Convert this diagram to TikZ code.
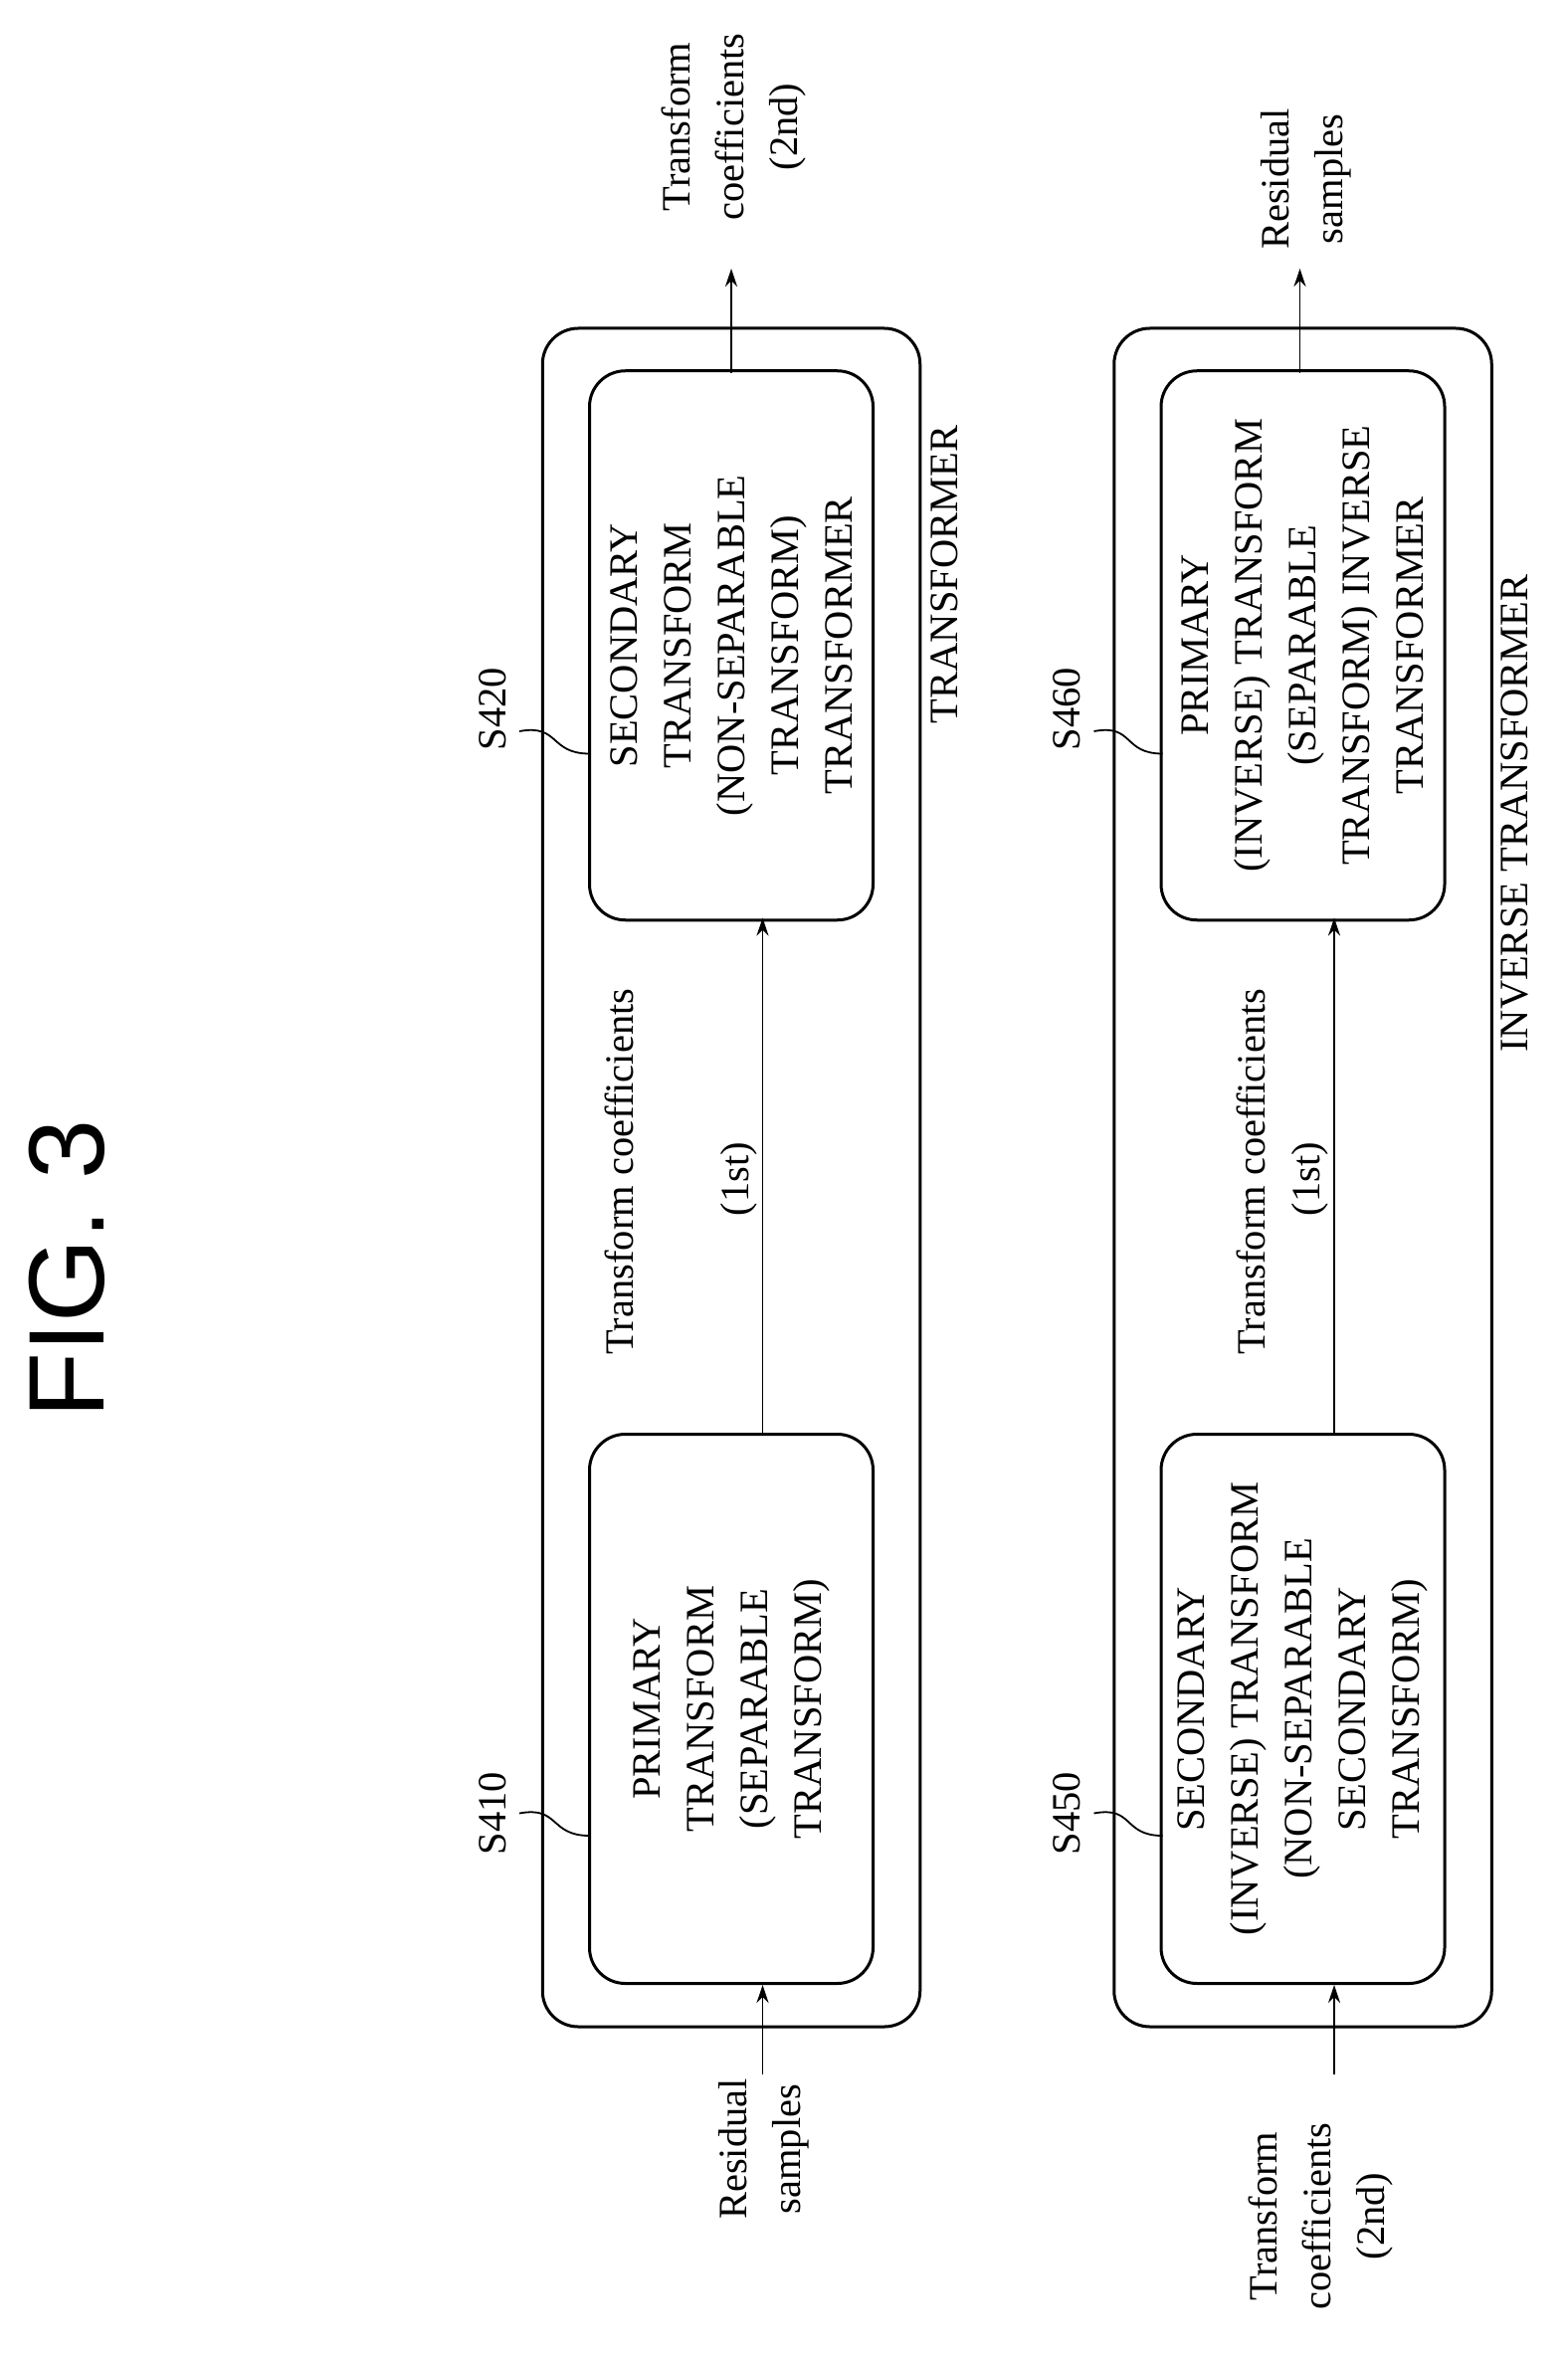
\documentclass[tikz,border=0pt]{standalone}
\usepackage{fontspec}
\setmainfont{Liberation Serif}
\newfontfamily\figfont{Liberation Sans}
\usetikzlibrary{arrows.meta}
\begin{document}
\begin{tikzpicture}[x=0.5pt,y=-0.5pt,
  outerbox/.style={draw,line width=1pt,rounded corners=12pt,minimum width=126.5pt,minimum height=569pt,inner sep=0},
  innerbox/.style={draw,line width=1pt,rounded corners=12pt,minimum width=95pt,minimum height=184pt,inner sep=0},
  txt/.style={rotate=90,align=center,font=\fontsize{13.5}{18}\selectfont,inner sep=0},
  arr/.style={-{Stealth[length=6pt,width=4pt]},line width=0.6pt},
  lead/.style={line width=0.6pt}]
\useasboundingbox (0,0) rectangle (1050,1582);
\node[rotate=90,font=\figfont\fontsize{36}{40}\selectfont] (fig) at (45,850) {FIG. 3};
% top group
\node[outerbox] (T) at (490,789) {};
\node[innerbox] (a) at (490,1145) {};
\node[innerbox] (b) at (490,432.5) {};
\node[txt] (at) at (490,1145) {PRIMARY\\TRANSFORM\\(SEPARABLE\\TRANSFORM)};
\node[txt] (bt) at (490,432.5) {SECONDARY\\TRANSFORM\\(NON-SEPARABLE\\TRANSFORM)\\TRANSFORMER};
\coordinate (ain) at (511,1390);
\coordinate (bout) at (490,180);
\draw[arr] (ain) -- (511,1330);
\draw[arr] (511,960) -- (511,615);
\draw[arr] (490,250) -- (bout);
\node[txt] (rs1) at (512,1440) {Residual\\samples};
\node[txt] (tc1) at (415,785) {Transform coefficients};
\node[txt] (st1) at (495,790) {(1st)};
\node[txt] (tc2) at (492,85) {Transform\\coefficients\\(2nd)};
\node[txt] (Tl) at (633,385) {TRANSFORMER};
\node[txt] (s420) at (330,475) {S420};
\node[txt] (s410) at (330,1215) {S410};
\draw[lead] (348,490) .. controls (375,485) and (368,505) .. (395,505);
\draw[lead] (348,1215) .. controls (375,1210) and (368,1230) .. (395,1230);
% bottom group
\node[outerbox] (I) at (873,789) {};
\node[innerbox] (c) at (873,1145) {};
\node[innerbox] (d) at (873,432.5) {};
\node[txt] (ct) at (873,1145) {SECONDARY\\(INVERSE) TRANSFORM\\(NON-SEPARABLE\\SECONDARY\\TRANSFORM)};
\node[txt] (dt) at (873,432.5) {PRIMARY\\(INVERSE) TRANSFORM\\(SEPARABLE\\TRANSFORM) INVERSE\\TRANSFORMER};
\coordinate (cin) at (894,1390);
\coordinate (dout) at (871,180);
\draw[arr] (cin) -- (894,1330);
\draw[arr] (894,960) -- (894,615);
\draw[arr] (871,250) -- (dout);
\node[txt] (tc3) at (885,1485) {Transform\\coefficients\\(2nd)};
\node[txt] (tc4) at (838,785) {Transform coefficients};
\node[txt] (st2) at (878,790) {(1st)};
\node[txt] (rs2) at (875,120) {Residual\\samples};
\node[txt] (Il) at (1015,545) {INVERSE TRANSFORMER};
\node[txt] (s460) at (715,475) {S460};
\node[txt] (s450) at (715,1215) {S450};
\draw[lead] (733,490) .. controls (760,485) and (752,505) .. (779,505);
\draw[lead] (733,1215) .. controls (760,1210) and (752,1230) .. (779,1230);
\end{tikzpicture}
\end{document}
